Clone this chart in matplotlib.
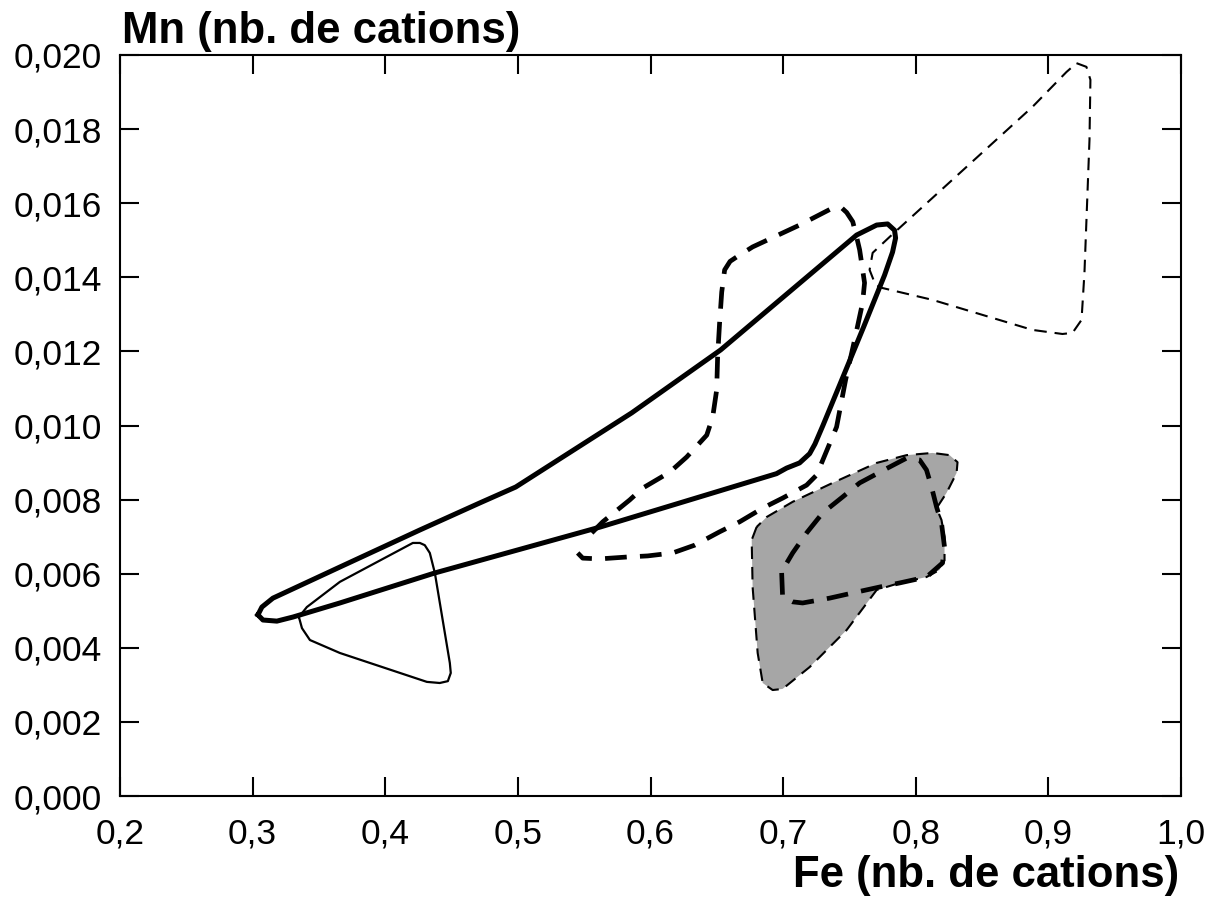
import matplotlib
matplotlib.use("Agg")
import matplotlib.pyplot as plt
from matplotlib.patches import Polygon

plt.rcParams['font.family'] = ['Liberation Sans', 'DejaVu Sans']

# outline points (Fe, Mn) of each field
# big field, thick solid
big_fe = [0.3040, 0.3078, 0.3183, 0.3304, 0.3658, 0.4374, 0.5621, 0.6950, 0.7026,
          0.7124, 0.7200, 0.7240, 0.7300, 0.7607, 0.7765, 0.7825, 0.7848, 0.7840,
          0.7788, 0.7705, 0.7554, 0.6529, 0.5858, 0.4984, 0.4713, 0.4261, 0.3658,
          0.3153, 0.3070, 0.3040]
big_mn = [0.00489, 0.00475, 0.00472, 0.00483, 0.00521, 0.00602, 0.00726, 0.00870,
          0.00885, 0.00899, 0.00924, 0.00950, 0.01000, 0.01266, 0.01406, 0.01468,
          0.01506, 0.01527, 0.01544, 0.01541, 0.01514, 0.01204, 0.01034, 0.00834,
          0.00791, 0.00718, 0.00618, 0.00534, 0.00510, 0.00489]

# small triangle, thin solid
tri_fe = [0.3349, 0.3409, 0.3658, 0.4035, 0.4208, 0.4261, 0.4298, 0.4336, 0.4374,
          0.4487, 0.4494, 0.4472, 0.4411, 0.4314, 0.3658, 0.3432, 0.3372, 0.3349]
tri_mn = [0.00483, 0.00510, 0.00578, 0.00650, 0.00683, 0.00683, 0.00677, 0.00656,
          0.00602, 0.00359, 0.00332, 0.00310, 0.00305, 0.00308, 0.00386, 0.00421,
          0.00453, 0.00483]

# middle field, thick dashed (open at lower left)
mid_fe = [0.5557, 0.5640, 0.5843, 0.5941, 0.6145, 0.6273, 0.6424, 0.6469, 0.6499,
          0.6506, 0.6521, 0.6537, 0.6559, 0.6600, 0.6650, 0.6770, 0.7124, 0.7373,
          0.7440, 0.7479, 0.7525, 0.7554, 0.7577, 0.7614, 0.7599, 0.7539, 0.7471,
          0.7403, 0.7252, 0.7177, 0.6996, 0.6846, 0.6672, 0.6521, 0.6333, 0.6167,
          0.5979, 0.5821, 0.5617, 0.5489, 0.5451]
mid_mn = [0.00710, 0.00740, 0.00799, 0.00831, 0.00874, 0.00915, 0.00974, 0.01023,
          0.01096, 0.01185, 0.01277, 0.01360, 0.01420, 0.01443, 0.01455, 0.01482,
          0.01541, 0.01587, 0.01588, 0.01575, 0.01550, 0.01509, 0.01474, 0.01385,
          0.01331, 0.01231, 0.01123, 0.00996, 0.00866, 0.00839, 0.00804, 0.00777,
          0.00740, 0.00713, 0.00677, 0.00656, 0.00648, 0.00645, 0.00640, 0.00642,
          0.00656]

# high Fe-Mn field, thin dashed
top_fe = [0.9212, 0.9287, 0.9317, 0.9310, 0.9272, 0.9250, 0.9182, 0.9106, 0.8880,
          0.8127, 0.7750, 0.7697, 0.7652, 0.7675, 0.7803, 0.8383, 0.8880, 0.9136,
          0.9212]
top_mn = [0.01978, 0.01968, 0.01933, 0.01771, 0.01412, 0.01285, 0.01250, 0.01247,
          0.01258, 0.01339, 0.01371, 0.01379, 0.01420, 0.01466, 0.01509, 0.01698,
          0.01860, 0.01954, 0.01978]

# grey field
grey_fe = [0.6800, 0.6763, 0.6770, 0.6808, 0.6846, 0.6921, 0.6996, 0.7200, 0.7479,
           0.7705, 0.7878, 0.8081, 0.8179, 0.8217, 0.8217, 0.8194, 0.8157, 0.8232,
           0.8308, 0.8315, 0.8255, 0.8127, 0.7931, 0.7705, 0.7373, 0.7072, 0.6876]
grey_mn = [0.00726, 0.00691, 0.00564, 0.00386, 0.00305, 0.00286, 0.00289, 0.00348,
           0.00448, 0.00556, 0.00575, 0.00591, 0.00610, 0.00637, 0.00699, 0.00745,
           0.00777, 0.00818, 0.00872, 0.00901, 0.00920, 0.00926, 0.00920, 0.00899,
           0.00845, 0.00794, 0.00753]

# field inside the grey one, thick dashed
ell_fe = [0.6989, 0.6996, 0.7072, 0.7147, 0.7350, 0.7524, 0.7727, 0.7878, 0.8081,
          0.8202, 0.8217, 0.8194, 0.8157, 0.8119, 0.8081, 0.8029, 0.7931, 0.7803,
          0.7577, 0.7448, 0.7298, 0.7177, 0.7072, 0.6996, 0.6989]
ell_mn = [0.00602, 0.00537, 0.00524, 0.00521, 0.00534, 0.00548, 0.00564, 0.00575,
          0.00591, 0.00629, 0.00672, 0.00737, 0.00780, 0.00834, 0.00880, 0.00907,
          0.00912, 0.00888, 0.00845, 0.00807, 0.00764, 0.00710, 0.00656, 0.00610,
          0.00602]

x_ticks = [0.2, 0.3, 0.4, 0.5, 0.6, 0.7, 0.8, 0.9, 1.0]
y_ticks = [0.000, 0.002, 0.004, 0.006, 0.008, 0.010, 0.012, 0.014, 0.016, 0.018, 0.020]

fig = plt.figure(figsize=(12.16, 9.02), dpi=100)
ax = fig.add_axes([120 / 1216, 1 - 796 / 902, 1061 / 1216, 741 / 902])

# grey field first so the lines sit on top
ax.add_patch(Polygon(list(zip(grey_fe, grey_mn)), closed=True, facecolor='#a6a6a6',
                     edgecolor='black', linewidth=1.5, linestyle=(0, (6, 3.8)),
                     joinstyle='round'))

ax.plot(big_fe, big_mn, color='black', lw=3.6, solid_joinstyle='round')
ax.plot(tri_fe, tri_mn, color='black', lw=1.6, solid_joinstyle='round')
ax.plot(mid_fe, mid_mn, color='black', lw=3.4, ls=(0, (4.6, 2.8)), dash_joinstyle='round')
ax.plot(top_fe, top_mn, color='black', lw=1.5, ls=(0, (6, 3.8)), dash_joinstyle='round')
ax.plot(ell_fe, ell_mn, color='black', lw=3.4, ls=(0, (4.6, 2.8)), dash_joinstyle='round')

ax.set_xlim(0.2, 1.0)
ax.set_ylim(0.0, 0.020)
ax.set_xticks(x_ticks)
ax.set_yticks(y_ticks)
ax.set_xticklabels([f"{v:.1f}".replace('.', ',') for v in x_ticks])
ax.set_yticklabels([f"{v:.3f}".replace('.', ',') for v in y_ticks])
ax.tick_params(direction='in', length=13.5, width=1.5, labelsize=25.5,
               top=True, right=True)
ax.tick_params(axis='x', pad=15.5)
ax.tick_params(axis='y', pad=13)
for sp in ax.spines.values():
    sp.set_linewidth(1.5)

fig.text(122 / 1216, 1 - 11 / 902, "Mn (nb. de cations)", fontsize=31.5,
         fontweight='bold', ha='left', va='top')
fig.text(1179 / 1216, 1 - 896 / 902, "Fe (nb. de cations)", fontsize=31.5,
         fontweight='bold', ha='right', va='bottom')

fig.savefig("out.png", dpi=100, facecolor='white')
